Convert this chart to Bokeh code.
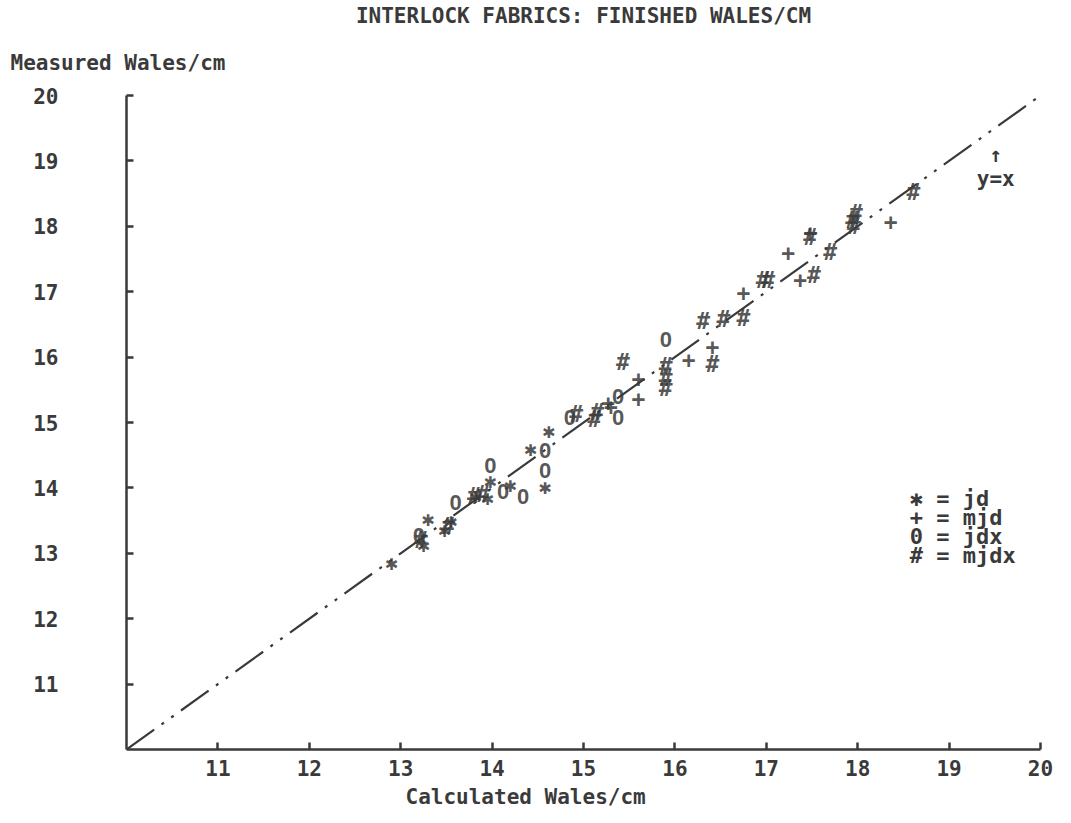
from bokeh.plotting import figure
from bokeh.models import Range1d, FixedTicker, Label, ColumnDataSource, Title
from bokeh.core.properties import value
from bokeh.embed import file_html
from bokeh.resources import INLINE

# ---- data ----
jd_x = [12.90, 13.25, 13.30, 13.48, 13.55, 13.82, 13.98, 13.95, 14.20, 14.42, 14.62, 14.58]
jd_y = [12.85, 13.12, 13.53, 13.35, 13.50, 13.88, 14.10, 13.85, 14.05, 14.60, 14.87, 14.02]

mjd_x = [15.27, 15.60, 15.60, 16.15, 16.41, 16.75, 17.24, 17.48, 17.37, 18.36, 15.30]
mjd_y = [15.31, 15.36, 15.68, 15.97, 16.16, 16.99, 17.60, 17.90, 17.18, 18.07, 15.25]

jdx_x = [13.20, 13.60, 13.98, 14.12, 14.34, 14.58, 14.58, 14.85, 15.38, 15.38, 15.90]
jdx_y = [13.27, 13.78, 14.34, 13.94, 13.87, 14.57, 14.26, 15.08, 15.08, 15.40, 16.27]

mjdx_x = [13.22, 13.52, 13.80, 13.90, 14.92, 15.15, 15.12, 15.43, 15.90, 15.90, 15.90,
          16.31, 16.41, 16.53, 16.75, 16.96, 17.02, 17.48, 17.52, 17.70, 17.94, 17.98,
          17.96, 18.61]
mjdx_y = [13.20, 13.42, 13.88, 13.90, 15.13, 15.16, 15.05, 15.92, 15.86, 15.68, 15.52,
          16.55, 15.89, 16.58, 16.60, 17.18, 17.18, 17.84, 17.26, 17.60, 18.10, 18.20,
          18.00, 18.52]

ref_x = [10, 20]
ref_y = [10, 20]

ticks = [11, 12, 13, 14, 15, 16, 17, 18, 19, 20]

title_text = "INTERLOCK FABRICS: FINISHED WALES/CM"
xlabel_text = "Calculated Wales/cm"
ylabel_text = "Measured Wales/cm"
legend_lines = ["\u2731 = jd", "+ = mjd", "0 = jdx", "# = mjdx"]

INK = "#3a3a3a"
FONT = "DejaVu Sans Mono"
FS = "21px"

p = figure(width=1060, height=812, x_range=Range1d(10, 20), y_range=Range1d(10, 20),
           output_backend="svg", toolbar_location=None,
           min_border_left=126, min_border_right=20, min_border_top=95, min_border_bottom=60)
p.outline_line_color = None
p.xgrid.visible = False
p.ygrid.visible = False
p.background_fill_color = "white"
p.border_fill_color = "white"

for ax in (p.xaxis[0], p.yaxis[0]):
    ax.ticker = FixedTicker(ticks=ticks)
    ax.axis_line_color = INK
    ax.axis_line_width = 2.5
    ax.major_tick_line_color = INK
    ax.major_tick_line_width = 2.5
    ax.major_tick_in = 7
    ax.major_tick_out = 0
    ax.minor_tick_line_color = None
    ax.major_label_text_font = FONT
    ax.major_label_text_font_style = "bold"
    ax.major_label_text_font_size = FS
    ax.major_label_text_color = INK
p.xaxis[0].major_label_standoff = 10
p.yaxis[0].major_label_standoff = 68

# titles / axis labels
p.title.text = title_text
p.title.align = "center"
p.title.text_font = FONT
p.title.text_font_style = "bold"
p.title.text_font_size = FS
p.title.text_color = INK
p.title.standoff = 0

p.add_layout(Title(text=ylabel_text, align="left", offset=-116, text_font=FONT,
                   text_font_style="bold", text_font_size=FS, text_color=INK,
                   standoff=42), "above")
p.add_layout(Title(text=xlabel_text, align="left", offset=279, text_font=FONT,
                   text_font_style="bold", text_font_size=FS, text_color=INK,
                   standoff=8), "below")

# reference line y = x
p.line(ref_x, ref_y, line_color=INK, line_width=2.2, line_dash="34 9 3 9 3 9")

def marks(xs, ys, glyph, size, font=FONT):
    src = ColumnDataSource(dict(x=xs, y=ys, t=[glyph] * len(xs)))
    p.text(x="x", y="y", text="t", source=src, text_align="center",
           text_baseline="middle", text_font=value(font), text_font_style="bold",
           text_font_size=size, text_color=INK, text_alpha=0.85)

marks(jd_x, jd_y, "\u2731", "21px")
marks(mjd_x, mjd_y, "+", "23px")
marks(jdx_x, jdx_y, "0", "22px", "Liberation Sans")
marks(mjdx_x, mjdx_y, "#", "23px")

def lab(x, y, text, size=FS, align="left", baseline="middle", font=FONT):
    p.add_layout(Label(x=x, y=y, text=text, text_font=font, text_font_style="bold",
                       text_font_size=size, text_color=INK, text_align=align,
                       text_baseline=baseline))

for i, t in enumerate(legend_lines):
    lab(18.57, 13.84 - i * 0.29, t, "22px")

lab(19.51, 19.09, "\u2191", align="center")
lab(19.51, 18.72, "y=x", align="center")

open("out.html", "w").write(file_html(p, INLINE))
